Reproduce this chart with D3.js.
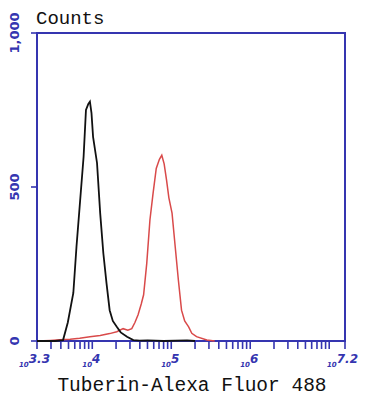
<!DOCTYPE html>
<html>
<head>
<meta charset="utf-8">
<script src="https://cdn.jsdelivr.net/npm/d3@7"></script>
<style>
  body { margin: 0; background: #fff; }
  svg { display: block; }
</style>
</head>
<body>
<div id="chart-area"></div>
<script>
// log10 intensity / counts
const controlLog = [3.30, 3.53, 3.63, 3.69, 3.76, 3.80, 3.84, 3.89, 3.92, 3.95, 3.97, 3.99, 4.01, 4.06, 4.10, 4.14, 4.18, 4.22, 4.26, 4.31, 4.36, 4.44, 4.52, 4.60, 4.70, 4.80, 4.90, 5.20, 5.30]
const controlCounts = [0, 0, 3, 60, 156, 306, 436, 598, 750, 770, 777, 740, 663, 578, 415, 285, 188, 100, 65, 46, 28, 14, 3, 1, 2, 1, 0, 2, 0]

const tuberinLog = [3.30, 3.47, 3.59, 3.72, 3.84, 3.97, 4.10, 4.22, 4.31, 4.39, 4.45, 4.50, 4.54, 4.58, 4.62, 4.65, 4.69, 4.73, 4.77, 4.81, 4.85, 4.88, 4.91, 4.94, 4.97, 5.01, 5.05, 5.09, 5.13, 5.17, 5.22, 5.26, 5.32, 5.45, 5.55]
const tuberinCounts = [0, 2, 4, 6, 9, 14, 18, 24, 30, 40, 35, 40, 60, 85, 120, 150, 253, 393, 480, 560, 590, 603, 575, 523, 465, 415, 306, 198, 100, 65, 46, 25, 14, 3, 0]

const yTicks = [0, 500, 1000]
const xTickLabels = ["3.3", "4", "5", "6", "7.2"]

const MARGIN = { LEFT: 37, RIGHT: 24, TOP: 33, BOTTOM: 59 }
const WIDTH = 369 - MARGIN.LEFT - MARGIN.RIGHT
const HEIGHT = 400 - MARGIN.TOP - MARGIN.BOTTOM
const BLUE = "#3535b0"

const svg = d3.select("#chart-area").append("svg")
  .attr("width", 369)
  .attr("height", 400)

const g = svg.append("g")
  .attr("transform", `translate(${MARGIN.LEFT}, ${MARGIN.TOP})`)

const x = d3.scaleLinear()
  .domain([3.3, 7.2])
  .range([0, WIDTH])

const y = d3.scaleLinear()
  .domain([0, 1000])
  .range([HEIGHT, 0])

// minor + major ticks (1..9 x 10^k) inside the domain
const tickPos = [3.3]
for (let k = 3; k <= 7; k++) {
  for (let m = 1; m <= 9; m++) {
    const v = k + Math.log10(m)
    if (v > 3.31 && v < 7.19) tickPos.push(v)
  }
}
tickPos.push(7.2)

g.selectAll(".xtick")
  .data(tickPos)
  .enter().append("line")
  .attr("class", "xtick")
  .attr("x1", d => x(d)).attr("x2", d => x(d))
  .attr("y1", HEIGHT).attr("y2", HEIGHT + 8)
  .attr("stroke", BLUE)
  .attr("stroke-width", 1.6)

g.selectAll(".ytick")
  .data(yTicks)
  .enter().append("line")
  .attr("class", "ytick")
  .attr("x1", -6).attr("x2", 0)
  .attr("y1", d => y(d)).attr("y2", d => y(d))
  .attr("stroke", BLUE)
  .attr("stroke-width", 1.6)

// x tick labels: small "10" with raised exponent
xTickLabels.forEach(lab => {
  const t = g.append("text")
    .attr("x", x(+lab) - (lab.length > 1 ? 18 : 10))
    .attr("y", HEIGHT + 26)
    .attr("fill", BLUE)
    .style("font-family", "DejaVu Sans, sans-serif")
    .style("font-weight", "bold")
    .style("font-style", "italic")
  t.append("tspan").style("font-size", "7px").text("10")
  t.append("tspan").attr("dy", -4).style("font-size", "12px").text(lab)
})

yTicks.forEach(v => {
  g.append("text")
    .attr("transform", `translate(-18, ${y(v)}) rotate(-90)`)
    .attr("text-anchor", "middle")
    .attr("fill", BLUE)
    .style("font-family", "DejaVu Sans, sans-serif")
    .style("font-weight", "bold")
    .style("font-size", "13px")
    .text(d3.format(",")(v))
})

// frame: left, top, right, bottom
g.append("rect")
  .attr("width", WIDTH)
  .attr("height", HEIGHT)
  .attr("fill", "none")
  .attr("stroke", BLUE)
  .attr("stroke-width", 2)

const line = d3.line()
  .x(d => x(d[0]))
  .y(d => y(d[1]))

g.append("path")
  .datum(d3.zip(tuberinLog, tuberinCounts))
  .attr("fill", "none")
  .attr("stroke", "#d94a4a")
  .attr("stroke-width", 1.5)
  .attr("d", line)

g.append("path")
  .datum(d3.zip(controlLog, controlCounts))
  .attr("fill", "none")
  .attr("stroke", "#111")
  .attr("stroke-width", 1.8)
  .attr("d", line)

svg.append("text")
  .attr("x", 36)
  .attr("y", 24)
  .style("font-family", "Liberation Mono, monospace")
  .style("font-size", "19px")
  .attr("fill", "#111")
  .text("Counts")

svg.append("text")
  .attr("x", 192)
  .attr("y", 391)
  .attr("text-anchor", "middle")
  .style("font-family", "Liberation Mono, monospace")
  .style("font-size", "19.5px")
  .attr("fill", "#111")
  .text("Tuberin-Alexa Fluor 488")
</script>
</body>
</html>
